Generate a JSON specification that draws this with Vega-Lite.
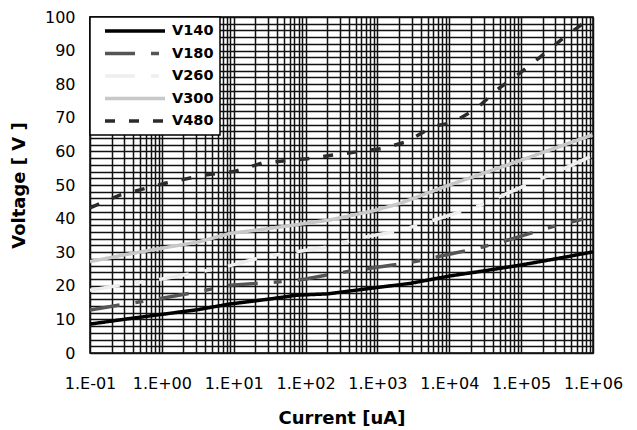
{
  "$schema": "https://vega.github.io/schema/vega-lite/v6.json",
  "width": 503,
  "height": 336,
  "autosize": "none",
  "padding": {"left": 90, "top": 17, "right": 44, "bottom": 77},
  "background": "white",
  "config": {
    "view": {"stroke": "#000", "strokeWidth": 1.5},
    "font": "DejaVu Sans"
  },
  "data": {
    "values": [
      {"series": "V140", "current": 0.1, "voltage": 8.6},
      {"series": "V140", "current": 0.316, "voltage": 10.1},
      {"series": "V140", "current": 1, "voltage": 11.5},
      {"series": "V140", "current": 3.16, "voltage": 12.9},
      {"series": "V140", "current": 8.9, "voltage": 14.6},
      {"series": "V140", "current": 30, "voltage": 16.0},
      {"series": "V140", "current": 75, "voltage": 17.2},
      {"series": "V140", "current": 200, "voltage": 17.6},
      {"series": "V140", "current": 1000, "voltage": 19.5},
      {"series": "V140", "current": 2820, "voltage": 20.7},
      {"series": "V140", "current": 10000, "voltage": 22.9},
      {"series": "V140", "current": 31600, "voltage": 24.5},
      {"series": "V140", "current": 100000, "voltage": 26.2},
      {"series": "V140", "current": 316000, "voltage": 28.1},
      {"series": "V140", "current": 1000000, "voltage": 30.1},

      {"series": "V180", "current": 0.1, "voltage": 12.8},
      {"series": "V180", "current": 0.316, "voltage": 14.6},
      {"series": "V180", "current": 1, "voltage": 16.3},
      {"series": "V180", "current": 3.16, "voltage": 18.2},
      {"series": "V180", "current": 8.9, "voltage": 20.2},
      {"series": "V180", "current": 44, "voltage": 21.2},
      {"series": "V180", "current": 100, "voltage": 22.0},
      {"series": "V180", "current": 240, "voltage": 23.5},
      {"series": "V180", "current": 525, "voltage": 24.7},
      {"series": "V180", "current": 2820, "voltage": 26.9},
      {"series": "V180", "current": 10000, "voltage": 29.4},
      {"series": "V180", "current": 25000, "voltage": 31.2},
      {"series": "V180", "current": 54000, "voltage": 33.1},
      {"series": "V180", "current": 275000, "voltage": 37.6},
      {"series": "V180", "current": 660000, "voltage": 39.6},
      {"series": "V180", "current": 720000, "voltage": 40.0},

      {"series": "V260", "current": 0.1, "voltage": 18.7},
      {"series": "V260", "current": 0.316, "voltage": 20.5},
      {"series": "V260", "current": 1, "voltage": 22.0},
      {"series": "V260", "current": 3.16, "voltage": 24.0},
      {"series": "V260", "current": 8.9, "voltage": 26.0},
      {"series": "V260", "current": 25.7, "voltage": 28.6},
      {"series": "V260", "current": 240, "voltage": 31.8},
      {"series": "V260", "current": 525, "voltage": 34.1},
      {"series": "V260", "current": 2040, "voltage": 36.4},
      {"series": "V260", "current": 24500, "voltage": 43.6},
      {"series": "V260", "current": 107000, "voltage": 49.6},
      {"series": "V260", "current": 447000, "voltage": 55.4},
      {"series": "V260", "current": 910000, "voltage": 58.4},

      {"series": "V300", "current": 0.1, "voltage": 27.2},
      {"series": "V300", "current": 0.316, "voltage": 29.3},
      {"series": "V300", "current": 1, "voltage": 31.2},
      {"series": "V300", "current": 3.16, "voltage": 33.0},
      {"series": "V300", "current": 8.9, "voltage": 35.6},
      {"series": "V300", "current": 30, "voltage": 37.0},
      {"series": "V300", "current": 219, "voltage": 39.6},
      {"series": "V300", "current": 871, "voltage": 42.3},
      {"series": "V300", "current": 2040, "voltage": 44.5},
      {"series": "V300", "current": 10000, "voltage": 50.0},
      {"series": "V300", "current": 51000, "voltage": 55.2},
      {"series": "V300", "current": 100000, "voltage": 57.4},
      {"series": "V300", "current": 980000, "voltage": 64.9},

      {"series": "V480", "current": 0.1, "voltage": 43.2},
      {"series": "V480", "current": 0.26, "voltage": 47.0},
      {"series": "V480", "current": 1.1, "voltage": 50.5},
      {"series": "V480", "current": 4, "voltage": 53.0},
      {"series": "V480", "current": 10, "voltage": 54.0},
      {"series": "V480", "current": 25.7, "voltage": 56.6},
      {"series": "V480", "current": 115, "voltage": 57.9},
      {"series": "V480", "current": 240, "voltage": 58.9},
      {"series": "V480", "current": 1200, "voltage": 60.9},
      {"series": "V480", "current": 2570, "voltage": 62.9},
      {"series": "V480", "current": 5900, "voltage": 67.4},
      {"series": "V480", "current": 11200, "voltage": 68.6},
      {"series": "V480", "current": 24500, "voltage": 72.9},
      {"series": "V480", "current": 45700, "voltage": 78.3},
      {"series": "V480", "current": 95000, "voltage": 83.2},
      {"series": "V480", "current": 182000, "voltage": 88.0},
      {"series": "V480", "current": 370000, "voltage": 93.4},
      {"series": "V480", "current": 720000, "voltage": 98.0},
      {"series": "V480", "current": 950000, "voltage": 99.5}
    ]
  },
  "mark": {"type": "line", "strokeWidth": 3.5, "clip": true},
  "encoding": {
    "x": {
      "field": "current",
      "type": "quantitative",
      "scale": {"type": "log", "domain": [0.1, 1000000], "nice": false},
      "axis": {
        "title": "Current [uA]",
        "titleFont": "DejaVu Sans",
        "titleFontSize": 18,
        "titleFontWeight": "bold",
        "titleColor": "#000",
        "titlePadding": 18,
        "labelFont": "DejaVu Sans",
        "labelFontSize": 16,
        "labelColor": "#000",
        "labelPadding": 22,
        "labelOverlap": false,
        "labelFlush": false,
        "labelBound": false,
        "ticks": false,
        "domain": false,
        "grid": true,
        "gridColor": "#111",
        "gridWidth": 1.5,
        "gridOpacity": 1,
        "values": [0.1,0.2,0.3,0.4,0.5,0.6,0.7,0.8,0.9,1,2,3,4,5,6,7,8,9,10,20,30,40,50,60,70,80,90,100,200,300,400,500,600,700,800,900,1000,2000,3000,4000,5000,6000,7000,8000,9000,10000,20000,30000,40000,50000,60000,70000,80000,90000,100000,200000,300000,400000,500000,600000,700000,800000,900000,1000000],
        "labelExpr": "abs(log(datum.value)/LN10 - round(log(datum.value)/LN10)) < 0.001 ? ('1.E' + (datum.value < 1 ? '-' : '+') + (abs(round(log(datum.value)/LN10)) < 10 ? '0' : '') + abs(round(log(datum.value)/LN10))) : ''"
      }
    },
    "y": {
      "field": "voltage",
      "type": "quantitative",
      "scale": {"domain": [0, 100], "nice": false},
      "axis": {
        "title": "Voltage [ V ]",
        "titleFont": "DejaVu Sans",
        "titleFontSize": 18,
        "titleFontWeight": "bold",
        "titleColor": "#000",
        "titlePadding": 16,
        "labelFont": "DejaVu Sans",
        "labelFontSize": 16,
        "labelColor": "#000",
        "labelPadding": 15,
        "labelOverlap": false,
        "labelFlush": false,
        "ticks": false,
        "domain": false,
        "grid": true,
        "gridColor": "#111",
        "gridWidth": 1.5,
        "gridOpacity": 1,
        "values": [0,2,4,6,8,10,12,14,16,18,20,22,24,26,28,30,32,34,36,38,40,42,44,46,48,50,52,54,56,58,60,62,64,66,68,70,72,74,76,78,80,82,84,86,88,90,92,94,96,98,100],
        "labelExpr": "datum.value % 10 == 0 ? datum.label : ''"
      }
    },
    "color": {
      "field": "series",
      "type": "nominal",
      "scale": {
        "domain": ["V140", "V180", "V260", "V300", "V480"],
        "range": ["#000000", "#555555", "#eeeeee", "#c8c8c8", "#2b2b2b"]
      },
      "legend": {
        "title": null,
        "orient": "top-left",
        "offset": 0,
        "padding": 6,
        "fillColor": "#ffffff",
        "strokeColor": "#000000",
        "cornerRadius": 0,
        "symbolType": "stroke",
        "symbolSize": 3600,
        "symbolStrokeWidth": 3.5,
        "clipHeight": 16,
        "rowPadding": 6.5,
        "symbolOffset": 7,
        "labelOffset": 5,
        "labelFont": "DejaVu Sans",
        "labelFontSize": 14.5,
        "labelFontWeight": "bold",
        "labelColor": "#000",
        "encode": {"legend": {"update": {"strokeWidth": {"value": 1.5}}}}
      }
    },
    "strokeDash": {
      "field": "series",
      "type": "nominal",
      "scale": {
        "domain": ["V140", "V180", "V260", "V300", "V480"],
        "range": [[1, 0], [30, 16, 8, 16], [30, 16, 8, 16], [1, 0], [10, 14]]
      },
      "legend": {
        "title": null,
        "orient": "top-left",
        "offset": 0,
        "padding": 6,
        "fillColor": "#ffffff",
        "strokeColor": "#000000",
        "cornerRadius": 0,
        "symbolType": "stroke",
        "symbolSize": 3600,
        "symbolStrokeWidth": 3.5,
        "clipHeight": 16,
        "rowPadding": 6.5,
        "symbolOffset": 7,
        "labelOffset": 5,
        "labelFont": "DejaVu Sans",
        "labelFontSize": 14.5,
        "labelFontWeight": "bold",
        "labelColor": "#000",
        "encode": {"legend": {"update": {"strokeWidth": {"value": 1.5}}}}
      }
    }
  }
}
